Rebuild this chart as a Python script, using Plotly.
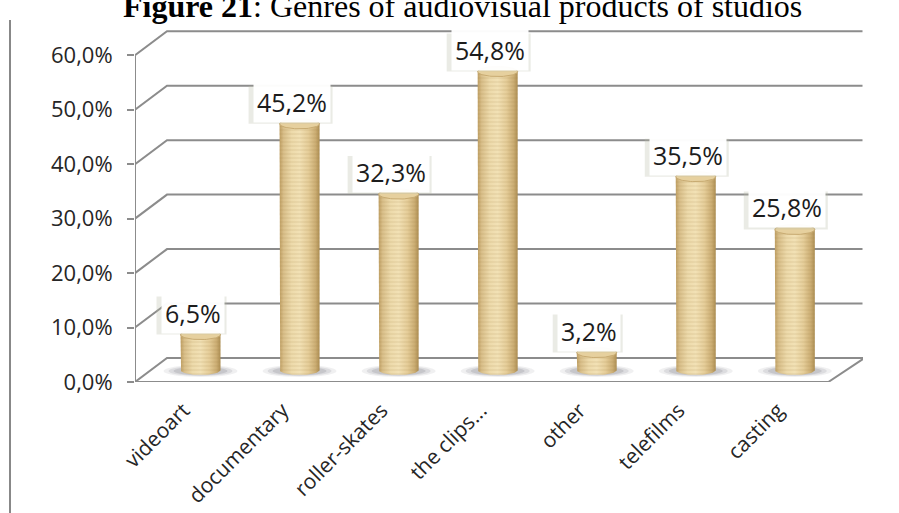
import numpy as np
import plotly.graph_objects as go

# ---- data -------------------------------------------------------------
categories = ["videoart", "documentary", "roller-skates", "the clips...",
              "other", "telefilms", "casting"]
shares = [6.5, 45.2, 32.3, 54.8, 3.2, 35.5, 25.8]
y_ticks = [0, 10, 20, 30, 40, 50, 60]
y_tick_labels = [f"{t:.1f}".replace(".", ",") + "%" for t in y_ticks]
title_text = "<b>Figure 21</b>: Genres of audiovisual products of studios"


def pct(v):
    return f"{v:.1f}".replace(".", ",") + "%"


# ---- layout geometry --------------------------------------------------
W, H = 899, 513
ML, MR, MT, MB = 135, 36, 28, 131
X_MAX = 7.35
Y_MAX = 65.0
PXX = (W - ML - MR) / X_MAX          # pixels per category unit
PYY = (H - MT - MB) / Y_MAX          # pixels per percent

DX = 32 / PXX                        # depth of the 3-D box (x)
DY = 24 / PYY                        # depth of the 3-D box (y)
X_BACK_END = 7.345                   # right end of back-wall grid
R = 20 / PXX                         # cylinder radius (x)
RY = 5 / PYY                         # ellipse half height (y)

GRID = "#8c8c8c"
n_cat = len(categories)

fig = go.Figure()
shapes = []

# floor
shapes.append(dict(type="path", layer="below", xref="x", yref="y",
                   path=f"M 0,0 L {DX},{DY} L {X_BACK_END + 0.02},{DY} L {n_cat},0 Z",
                   line=dict(color=GRID, width=2), fillcolor="white"))
# back-wall gridlines with their diagonal returns
for t in y_ticks[1:]:
    shapes.append(dict(type="path", layer="below", xref="x", yref="y",
                       path=f"M 0,{t} L {DX},{t + DY} L {X_BACK_END},{t + DY}",
                       line=dict(color=GRID, width=2)))
# front value axis line
shapes.append(dict(type="line", layer="below", xref="x", yref="y",
                   x0=0, x1=0, y0=-7 / PYY, y1=y_ticks[-1],
                   line=dict(color=GRID, width=2)))
# category boundary ticks
for k in range(1, n_cat + 1):
    shapes.append(dict(type="line", layer="below", xref="x", yref="y",
                       x0=k, x1=k, y0=0, y1=-7 / PYY,
                       line=dict(color=GRID, width=2)))
# page rule at left
shapes.append(dict(type="line", xref="paper", yref="paper",
                   x0=(10 - ML) / (W - ML - MR), x1=(10 - ML) / (W - ML - MR),
                   y0=(H - MB - 20) / (H - MT - MB), y1=-MB / (H - MT - MB) - 0.01,
                   line=dict(color="#888888", width=2)))

# floor shadows around each cylinder base
base = DY / 2
for i in range(n_cat):
    xc = i + 0.5 + DX / 2
    for rx, ry, a in [(37, 6, 0.10), (32, 5, 0.15), (27, 4.2, 0.2)]:
        shapes.append(dict(type="circle", layer="below", xref="x", yref="y",
                           x0=xc - rx / PXX, x1=xc + rx / PXX,
                           y0=base - 1 / PYY - ry / PYY, y1=base - 1 / PYY + ry / PYY,
                           line=dict(width=0),
                           fillcolor=f"rgba(110,110,120,{a})"))

body_scale = [[0.0, "#bf9f63"], [0.10, "#d9bf8a"], [0.30, "#eddaab"],
              [0.50, "#f2e1b5"], [0.72, "#e5cd99"], [0.90, "#cbad73"],
              [1.0, "#ac8d52"]]

t_low = np.linspace(np.pi, 2 * np.pi, 40)
t_up = np.linspace(0, np.pi, 40)
t_all = np.linspace(0, 2 * np.pi, 80)

annotations = []
for i, (name, v) in enumerate(zip(categories, shares)):
    xc = i + 0.5 + DX / 2
    top = v + base
    # cylinder body: left side, lower base arc, right side, upper top arc
    bx = np.concatenate([[xc - R], xc + R * np.cos(t_low), [xc + R], xc + R * np.cos(t_up)])
    by = np.concatenate([[top], base + RY * np.sin(t_low), [top], top + RY * np.sin(t_up)])
    fig.add_trace(go.Scatter(x=bx, y=by, mode="lines", fill="toself",
                             line=dict(width=0), hoverinfo="skip", showlegend=False,
                             fillgradient=dict(type="horizontal", colorscale=body_scale)))
    # fine horizontal grain
    fig.add_trace(go.Scatter(x=bx, y=by, mode="lines", fill="toself",
                             line=dict(width=0), hoverinfo="skip", showlegend=False,
                             fillcolor="rgba(0,0,0,0)",
                             fillpattern=dict(shape="-", size=4, solidity=0.25,
                                              fgcolor="#9c7c42", fgopacity=0.2,
                                              bgcolor="rgba(0,0,0,0)")))
    # top face
    fig.add_trace(go.Scatter(x=xc + R * np.cos(t_all), y=top + RY * np.sin(t_all),
                             mode="lines", fill="toself", fillcolor="#e6d09e",
                             line=dict(color="#c8ab72", width=1),
                             hoverinfo="skip", showlegend=False))
    # data label: soft shadow plate, then white label box
    label = pct(v)
    lx = xc - 8 / PXX
    ly = top + 22 / PYY
    half_w = (14 * len(label) + 14) / 2
    shapes.append(dict(type="rect", layer="above", xref="x", yref="y",
                       x0=lx - (half_w + 1) / PXX, x1=lx + (half_w - 1) / PXX,
                       y0=ly - 22 / PYY, y1=ly + 16 / PYY,
                       line=dict(width=0), fillcolor="rgba(185,190,170,0.3)"))
    annotations.append(dict(x=lx, y=ly, xref="x", yref="y", text=label,
                            showarrow=False,
                            font=dict(family="Open Sans", size=25, color="#1c1c1c"),
                            bgcolor="rgba(255,255,255,0.97)", borderpad=3))

annotations.append(dict(x=(462 - ML) / (W - ML - MR), y=(H - MB - 6) / (H - MT - MB),
                        xref="paper", yref="paper", xanchor="center", yanchor="middle",
                        text=title_text, showarrow=False,
                        font=dict(family="Liberation Serif", size=32, color="black")))

fig.update_layout(
    width=W, height=H,
    margin=dict(l=ML, r=MR, t=MT, b=MB),
    paper_bgcolor="white", plot_bgcolor="white",
    shapes=shapes, annotations=annotations,
    font=dict(family="Open Sans", color="#262626"),
    xaxis=dict(range=[0, X_MAX], tickmode="array",
               tickvals=[i + 0.5 for i in range(n_cat)], ticktext=categories,
               tickangle=-45, ticks="", showline=False, showgrid=False,
               zeroline=False, automargin=False, ticklabelstandoff=11,
               ticklabelshift=-1,
               tickfont=dict(family="Open Sans", size=21, color="#262626")),
    yaxis=dict(range=[0, Y_MAX], tickmode="array", tickvals=y_ticks,
               ticktext=y_tick_labels, ticks="outside", ticklen=7,
               tickcolor=GRID, tickwidth=2, showline=False, showgrid=False,
               zeroline=False, automargin=False, ticklabelstandoff=10,
               tickfont=dict(family="Open Sans", size=22, color="#262626")),
)

fig.write_html("out.html")
